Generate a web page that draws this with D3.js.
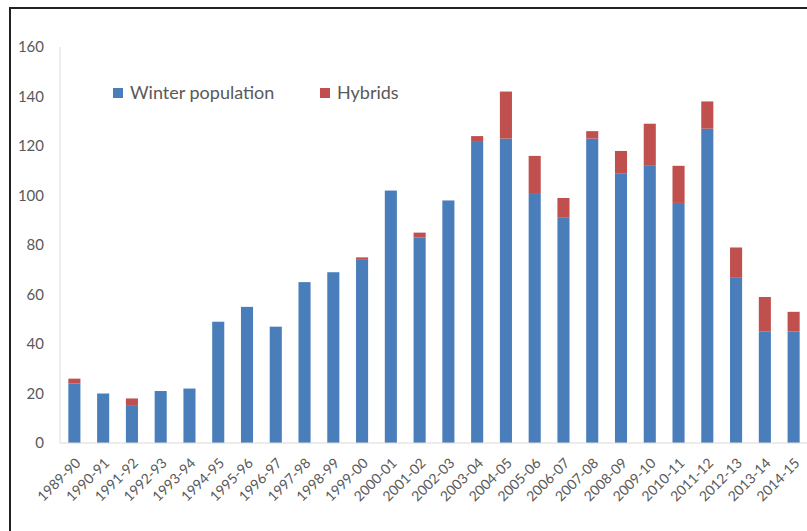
<!DOCTYPE html>
<html><head><meta charset="utf-8">
<script src="https://cdn.jsdelivr.net/npm/d3@7"></script>
<style>html,body{margin:0;padding:0;background:#fff;}svg{display:block;}</style>
</head><body>
<svg id="chart" width="807" height="531"></svg>
<script>
const categories = ["1989-90","1990-91","1991-92","1992-93","1993-94","1994-95","1995-96","1996-97","1997-98","1998-99","1999-00","2000-01","2001-02","2002-03","2003-04","2004-05","2005-06","2006-07","2007-08","2008-09","2009-10","2010-11","2011-12","2012-13","2013-14","2014-15"];
const winterPopulation = [24,20,15,21,22,49,55,47,65,69,74,102,83,98,122,123,101,91,123,109,112,97,127,67,45,45];
const hybrids = [2,0,3,0,0,0,0,0,0,0,1,0,2,0,2,19,15,8,3,9,17,15,11,12,14,8];
const yTicks = [0,20,40,60,80,100,120,140,160];
const seriesNames = ["Winter population","Hybrids"];
const colors = ["#4a7ebb","#c0504d"];

const svg = d3.select("#chart");
const font = "Lato, 'Open Sans', sans-serif";
const textColor = "#595959";

// frame
svg.append("path").attr("d","M10,531 L10,8 L807,8").attr("fill","none").attr("stroke","#222").attr("stroke-width",2);

const x = d3.scaleBand().domain(categories).range([60, 808]).paddingInner(0.58).paddingOuter(0.29);
const y = d3.scaleLinear().domain([0,160]).range([443, 47]);

const rows = categories.map((c,i)=>({cat:c, "Winter population":winterPopulation[i], "Hybrids":hybrids[i]}));
const stack = d3.stack().keys(seriesNames)(rows);

svg.append("line").attr("x1",60).attr("x2",60).attr("y1",y(160)).attr("y2",y(0)).attr("stroke","#d9d9d9");

stack.forEach((s,si)=>{
  svg.append("g").selectAll("rect").data(s).join("rect")
    .attr("x", d=>x(d.data.cat))
    .attr("width", x.bandwidth())
    .attr("y", d=>y(d[1]))
    .attr("height", d=>Math.max(0, y(d[0])-y(d[1])))
    .attr("fill", colors[si]);
});

svg.append("line").attr("x1",60).attr("x2",807).attr("y1",y(0)).attr("y2",y(0)).attr("stroke","#d9d9d9");

// y axis labels
const yAxis = d3.axisLeft(y).tickValues(yTicks).tickSize(0).tickPadding(0);
const ga = svg.append("g").attr("transform","translate(44,0)").call(yAxis);
ga.select(".domain").remove();
ga.selectAll("text").attr("font-family",font).attr("font-size",15).attr("fill",textColor);

// x labels
const xAxis = d3.axisBottom(x).tickSize(0);
const gx = svg.append("g").attr("transform",`translate(0,${y(0)})`).call(xAxis);
gx.select(".domain").remove();
gx.selectAll("text")
  .attr("font-family",font).attr("font-size",14).attr("fill",textColor)
  .attr("text-anchor","end")
  .attr("dy",0).attr("y",0)
  .attr("transform","translate(7,21) rotate(-45)");

// legend
const legendX = [113, 320];
seriesNames.forEach((n,i)=>{
  const g = svg.append("g").attr("transform",`translate(${legendX[i]},88)`);
  g.append("rect").attr("width",10).attr("height",10).attr("fill",colors[i]);
  g.append("text").attr("x",17).attr("y",11).attr("font-family",font).attr("font-size",18).attr("fill",textColor).text(n);
});
</script>
</body></html>
